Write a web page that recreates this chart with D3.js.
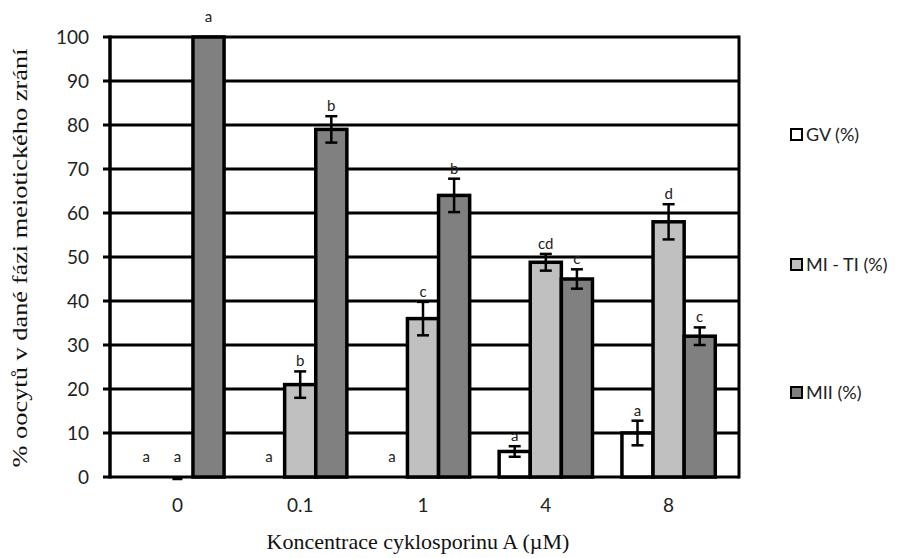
<!DOCTYPE html>
<html>
<head>
<meta charset="utf-8">
<script src="https://cdn.jsdelivr.net/npm/d3@7"></script>
<style>
  body { margin: 0; background: #fff; }
  .tick-lab { font-family: Lato, "Open Sans", sans-serif; font-size: 19px; fill: #222; }
  .letter { font-family: Lato, "Open Sans", sans-serif; font-size: 15px; fill: #222; }
  .title { font-family: "Liberation Serif", "DejaVu Serif", serif; font-size: 22px; fill: #111; }
  .legend { font-family: Lato, "Open Sans", sans-serif; font-size: 18px; fill: #222; }
</style>
</head>
<body>
<div id="plot"></div>
<script>
// categories + series
const concentrations = ["0", "0.1", "1", "4", "8"]
const seriesNames = ["GV (%)", "MI - TI (%)", "MII (%)"]
const gvValues = [0, 0, 0, 5.8, 10]
const miValues = [0, 21, 36, 48.8, 58]
const miiValues = [100, 79, 64, 45, 32]
const gvErr = [0, 0, 0, 1.2, 2.8]
const miErr = [0, 3, 3.8, 1.9, 4]
const miiErr = [0, 3, 3.8, 2.2, 2]
const gvLetters = ["a", "a", "a", "a", "a"]
const miLetters = ["a", "b", "c", "cd", "d"]
const miiLetters = ["a", "b", "b", "c", "c"]
const yTicks = [0, 10, 20, 30, 40, 50, 60, 70, 80, 90, 100]

const w = 900,
      h = 558,
      plot = {left: 110, right: 739, top: 37, bottom: 477},
      fills = ["#ffffff", "#c0c0c0", "#808080"]

const svg = d3.select("#plot").append("svg")
  .attr("width", w)
  .attr("height", h)

const y = d3.scaleLinear()
  .domain([0, 100])
  .range([plot.bottom, plot.top])

// bars sit a bit inside the frame in the original
const x0 = d3.scaleBand()
  .domain(concentrations)
  .range([plot.left + 6, plot.right - 9])
  .paddingInner(0.24)
  .paddingOuter(0.12)

const x1 = d3.scaleBand()
  .domain(d3.range(3))
  .range([0, x0.bandwidth()])

const rows = concentrations.map((c, i) => ({
  cat: c,
  bars: [
    {s: 0, v: gvValues[i], e: gvErr[i], l: gvLetters[i]},
    {s: 1, v: miValues[i], e: miErr[i], l: miLetters[i]},
    {s: 2, v: miiValues[i], e: miiErr[i], l: miiLetters[i]}
  ]
}))

// gridlines
svg.append("g")
  .selectAll("line")
  .data(yTicks)
  .join("line")
    .attr("x1", plot.left - 7)
    .attr("x2", plot.right)
    .attr("y1", d => y(d))
    .attr("y2", d => y(d))
    .attr("stroke", "#000")
    .attr("stroke-width", 3)

// y tick labels
svg.append("g")
  .selectAll("text")
  .data(yTicks)
  .join("text")
    .attr("class", "tick-lab")
    .attr("x", plot.left - 21)
    .attr("y", d => y(d))
    .attr("dy", "0.35em")
    .attr("text-anchor", "end")
    .text(d => d)

// frame
svg.append("line")
  .attr("x1", plot.left).attr("x2", plot.left)
  .attr("y1", plot.top - 1.5).attr("y2", plot.bottom + 1.5)
  .attr("stroke", "#000").attr("stroke-width", 3.5)
svg.append("line")
  .attr("x1", plot.right).attr("x2", plot.right)
  .attr("y1", plot.top - 1.5).attr("y2", plot.bottom + 1.5)
  .attr("stroke", "#000").attr("stroke-width", 3)

const groups = svg.append("g")
  .selectAll("g")
  .data(rows)
  .join("g")
    .attr("transform", d => `translate(${x0(d.cat)},0)`)

groups.selectAll("rect")
  .data(d => d.bars.filter(b => b.v > 0))
  .join("rect")
    .attr("x", b => x1(b.s))
    .attr("y", b => y(b.v))
    .attr("width", x1.bandwidth())
    .attr("height", b => y(0) - y(b.v))
    .attr("fill", b => fills[b.s])
    .attr("stroke", "#000")
    .attr("stroke-width", 3.5)

// error bars
const errs = groups.selectAll("g.err")
  .data(d => d.bars.filter(b => b.e > 0))
  .join("g")
    .attr("class", "err")
    .attr("stroke", "#000")
    .attr("stroke-width", 2.5)

errs.append("line")
  .attr("x1", b => x1(b.s) + x1.bandwidth() / 2)
  .attr("x2", b => x1(b.s) + x1.bandwidth() / 2)
  .attr("y1", b => y(b.v + b.e))
  .attr("y2", b => y(b.v - b.e))
errs.selectAll("line.cap")
  .data(b => [b.v + b.e, b.v - b.e].map(v => ({s: b.s, v: v})))
  .join("line")
    .attr("class", "cap")
    .attr("x1", c => x1(c.s) + x1.bandwidth() / 2 - 6)
    .attr("x2", c => x1(c.s) + x1.bandwidth() / 2 + 6)
    .attr("y1", c => y(c.v))
    .attr("y2", c => y(c.v))

// the little dash under the zero MI bar at 0 uM
svg.append("line")
  .attr("x1", x0("0") + x1(1) + x1.bandwidth() / 2 - 5)
  .attr("x2", x0("0") + x1(1) + x1.bandwidth() / 2 + 5)
  .attr("y1", y(0) + 2)
  .attr("y2", y(0) + 2)
  .attr("stroke", "#000")
  .attr("stroke-width", 2.5)

// significance letters
groups.selectAll("text")
  .data(d => d.bars)
  .join("text")
    .attr("class", "letter")
    .attr("x", b => x1(b.s) + x1.bandwidth() / 2)
    .attr("y", b => y(b.v + b.e) - (b.e > 0 ? 5 : 15))
    .attr("text-anchor", "middle")
    .text(b => b.l)

// x tick labels
svg.append("g")
  .selectAll("text")
  .data(concentrations)
  .join("text")
    .attr("class", "tick-lab")
    .attr("x", d => x0(d) + x0.bandwidth() / 2)
    .attr("y", plot.bottom + 35)
    .attr("text-anchor", "middle")
    .text(d => d)

// axis titles
svg.append("text")
  .attr("class", "title")
  .attr("x", 418)
  .attr("y", 549)
  .attr("text-anchor", "middle")
  .text("Koncentrace cyklosporinu A (\u00b5M)")

// original is stretched vertically, so the rotated title is longer than it is tall
svg.append("text")
  .attr("class", "title")
  .attr("transform", "translate(27,258) rotate(-90) scale(1.2,1)")
  .attr("text-anchor", "middle")
  .text("% oocytů v dané fázi meiotického zrání")

// legend
const legendY = [135, 265, 393]
const leg = svg.append("g")
  .selectAll("g")
  .data(seriesNames)
  .join("g")
    .attr("transform", (d, i) => `translate(791,${legendY[i]})`)
leg.append("rect")
  .attr("x", 0).attr("y", -6)
  .attr("width", 11).attr("height", 11)
  .attr("fill", (d, i) => fills[i])
  .attr("stroke", "#000")
  .attr("stroke-width", 2)
leg.append("text")
  .attr("class", "legend")
  .attr("x", 15)
  .attr("y", 0)
  .attr("dy", "0.35em")
  .text(d => d)
</script>
</body>
</html>
